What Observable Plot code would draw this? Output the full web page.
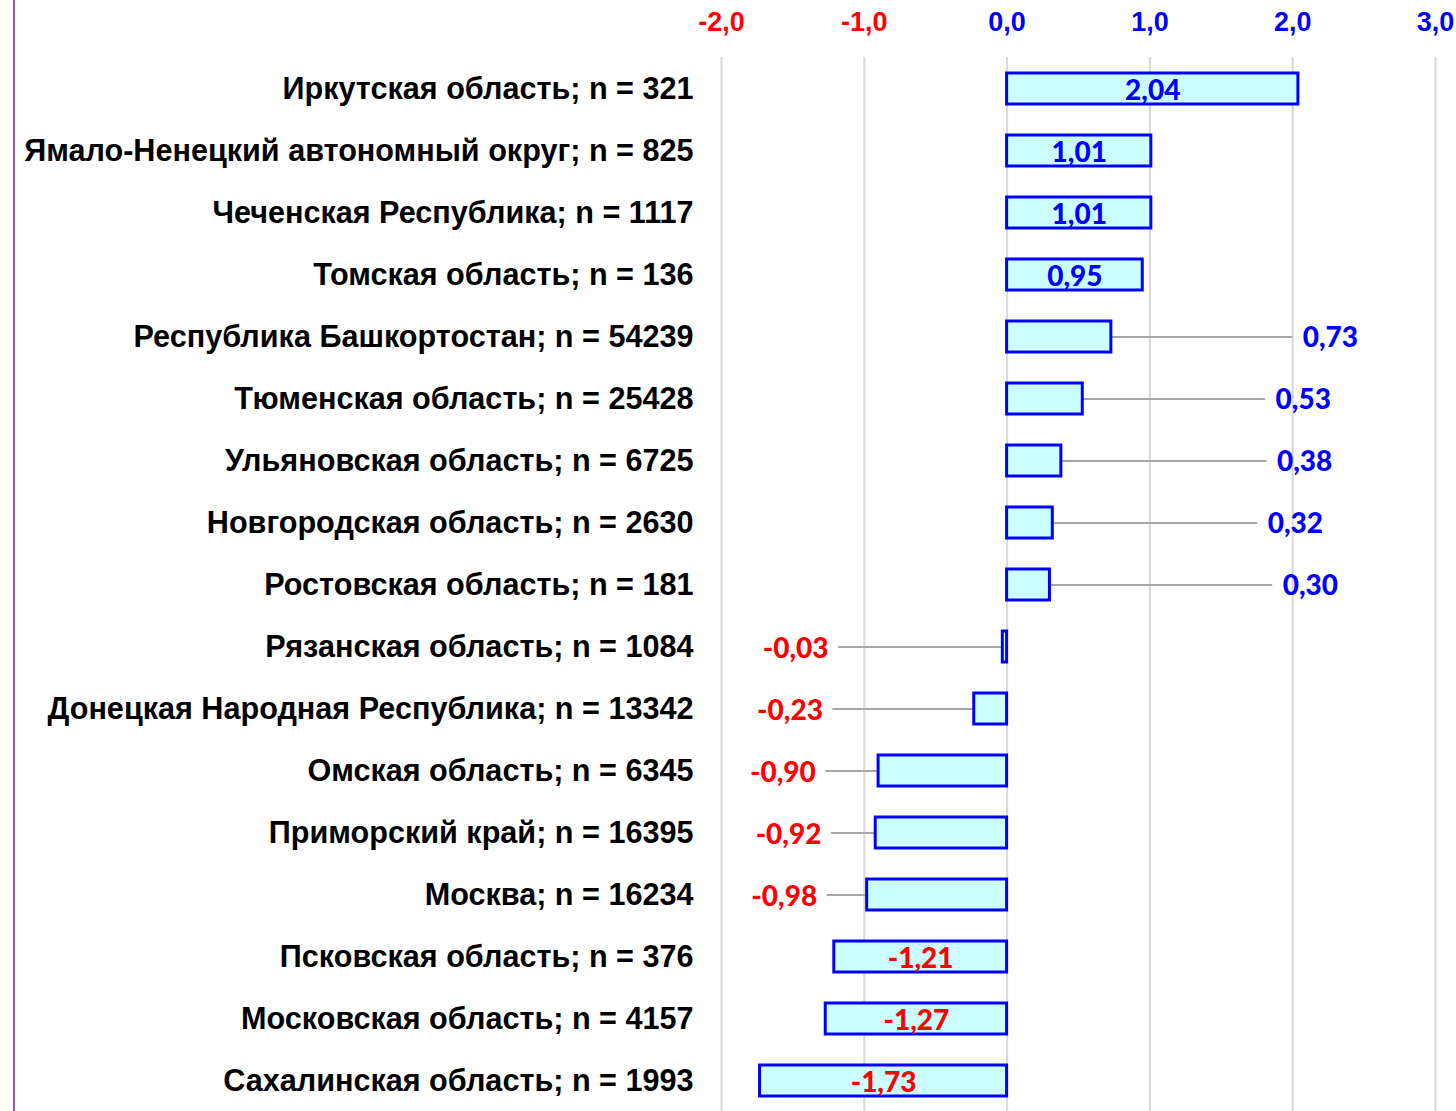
<!DOCTYPE html>
<html><head><meta charset="utf-8">
<script src="https://cdn.jsdelivr.net/npm/d3@7"></script>
<script src="https://cdn.jsdelivr.net/npm/@observablehq/plot@0.6"></script>
<style>
body{margin:0;background:#fff;}
#wrap{position:relative;width:1456px;height:1111px;overflow:hidden;background:#fff;}
#edge{position:absolute;left:13px;top:0;width:2px;height:1111px;background:#9257c8;z-index:2;}
#wrap svg{position:absolute;left:0;top:0;z-index:1;}
</style></head><body><div id="wrap"><div id="edge"></div></div>
<script>
const regions = ["Иркутская область","Ямало-Ненецкий автономный округ","Чеченская Республика","Томская область","Республика Башкортостан","Тюменская область","Ульяновская область","Новгородская область","Ростовская область","Рязанская область","Донецкая Народная Республика","Омская область","Приморский край","Москва","Псковская область","Московская область","Сахалинская область"];
const counts = [321,825,1117,136,54239,25428,6725,2630,181,1084,13342,6345,16395,16234,376,4157,1993];
const values = [2.04,1.01,1.01,0.95,0.73,0.53,0.38,0.32,0.30,-0.03,-0.23,-0.90,-0.92,-0.98,-1.21,-1.27,-1.73];
// callout leader ends (data units); null = label inside bar
const calloutEnds = [null,null,null,null,2.00,1.81,1.82,1.755,1.86,-1.18,-1.22,-1.27,-1.23,-1.26,null,null,null];
const xTicks = [-2,-1,0,1,2,3];

const fmt = v => v.toFixed(2).replace(".", ",");
const fmtTick = v => v.toFixed(1).replace(".", ",");
const col = v => v < 0 ? "#ff0000" : "#0000ff";
const rows = regions.map((r,i)=>({label:`${r}; n = ${counts[i]}`, value: values[i], callout: calloutEnds[i]}));
const inside = rows.filter(d=>d.callout==null);
const outPos = rows.filter(d=>d.callout!=null && d.value>=0);
const outNeg = rows.filter(d=>d.callout!=null && d.value<0);
const valFont = "Lato, 'Open Sans', sans-serif";

const chart = Plot.plot({
  width:1456, height:1111,
  marginLeft:721, marginRight:21, marginTop:57, marginBottom:0,
  x:{domain:[-2,3], axis:null},
  y:{domain: rows.map(d=>d.label), paddingInner:0.5, paddingOuter:0.25, axis:null},
  color:{type:"identity"},
  style:{fontFamily:"'Liberation Sans', Arial, sans-serif", background:"white", overflow:"visible"},
  marks:[
    Plot.ruleX(xTicks,{x:d=>d, stroke:"#d9d9d9", strokeWidth:2}),
    Plot.text(xTicks,{x:d=>d, frameAnchor:"top", lineAnchor:"middle", dy:-35, text:d=>fmtTick(d), fill:d=>col(d), fontSize:27, fontWeight:"bold"}),
    Plot.text(rows,{y:"label", frameAnchor:"left", dx:-28, textAnchor:"end", text:"label", fill:"black", fontSize:30.6, fontWeight:"bold"}),
    Plot.ruleY([...outPos,...outNeg],{y:"label", x1:"value", x2:"callout", stroke:"#a6a6a6", strokeWidth:2}),
    Plot.barX(rows,{x1:0, x2:"value", y:"label", fill:"#ccffff", stroke:"#0000ff", strokeWidth:3}),
    Plot.text(inside,{x:d=>d.value/2, y:"label", text:d=>fmt(d.value), fill:d=>col(d.value), fontSize:28, fontWeight:900, fontFamily:valFont, dy:2}),
    Plot.text(outPos,{x:"callout", y:"label", text:d=>fmt(d.value), fill:d=>col(d.value), textAnchor:"start", dx:10, fontSize:28, fontWeight:900, fontFamily:valFont, dy:1}),
    Plot.text(outNeg,{x:"callout", y:"label", text:d=>fmt(d.value), fill:d=>col(d.value), textAnchor:"end", dx:-10, fontSize:28, fontWeight:900, fontFamily:valFont, dy:2})
  ]
});
document.getElementById("wrap").appendChild(chart);
</script></body></html>
